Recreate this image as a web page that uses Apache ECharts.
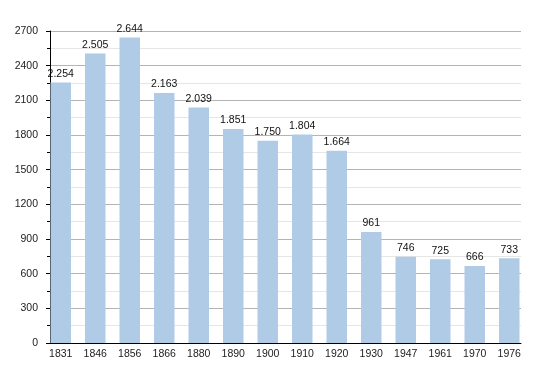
<!DOCTYPE html>
<html><head><meta charset="utf-8">
<script src="https://cdn.jsdelivr.net/npm/echarts@6/dist/echarts.min.js"></script>
<style>html,body{margin:0;padding:0;background:#fff}#c{width:550px;height:373px}</style>
</head><body><div id="c"></div>
<script>
const years = ['1831','1846','1856','1866','1880','1890','1900','1910','1920','1930','1947','1961','1970','1976'];
const population = [2254, 2505, 2644, 2163, 2039, 1851, 1750, 1804, 1664, 961, 746, 725, 666, 733];
const yMin = 0, yMax = 2700, yStep = 300;

function fmt(v){ return String(v).replace(/\B(?=(\d{3})+(?!\d))/g, '.'); }
const font = 'Liberation Sans, Arial, sans-serif';
const chart = echarts.init(document.getElementById('c'), null, {renderer:'canvas'});
chart.setOption({
  animation:false,
  grid:[
    {left:50, right:29, top:31, bottom:30},
    {left:43.5, right:23.5, top:31, bottom:30}
  ],
  xAxis:[
    {type:'category', gridIndex:0, data:years, axisLabel:{show:false}, axisTick:{show:false},
     axisLine:{lineStyle:{color:'#000', width:1}}, splitLine:{show:false}, z:5},
    {type:'category', gridIndex:1, data:years, axisLine:{show:false}, axisTick:{show:false},
     axisLabel:{color:'#222', fontFamily:font, fontSize:10.5, margin:6}}
  ],
  yAxis:[
    {type:'value', gridIndex:0, min:yMin, max:yMax, interval:yStep,
     axisLine:{show:true, lineStyle:{color:'#000'}},
     axisTick:{show:true, length:4, lineStyle:{color:'#000'}},
     minorTick:{show:true, splitNumber:2, length:3, lineStyle:{color:'#000'}},
     axisLabel:{color:'#222', fontFamily:font, fontSize:10.5, margin:12, formatter:v=>String(v)},
     splitLine:{show:true, lineStyle:{color:'#b4b4b4', width:1}},
     minorSplitLine:{show:true, lineStyle:{color:'#e6e6e6', width:1}}},
    {type:'value', gridIndex:1, min:yMin, max:yMax, interval:yStep, show:false, splitLine:{show:false}}
  ],
  series:[{
    type:'bar', xAxisIndex:1, yAxisIndex:1, data:population, barWidth:20.5,
    itemStyle:{color:'#b0cbe5'},
    label:{show:true, position:'top', distance:3, color:'#111', fontFamily:font, fontSize:10.5,
      formatter:p=>fmt(p.value)}
  }]
});
</script></body></html>
